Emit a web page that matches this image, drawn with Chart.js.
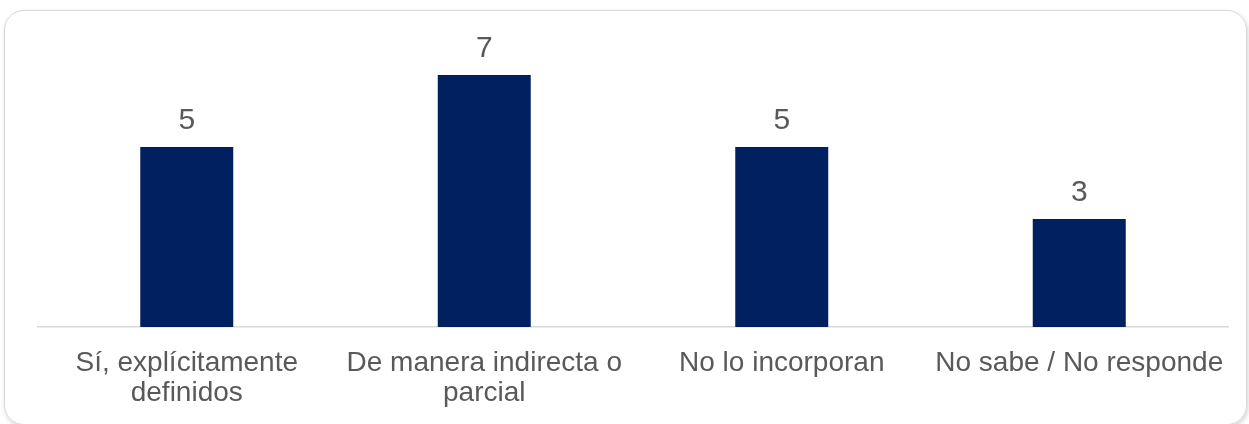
<!DOCTYPE html>
<html>
<head>
<meta charset="utf-8">
<script src="https://cdn.jsdelivr.net/npm/chart.js@4/dist/chart.umd.min.js"></script>
<style>
  html, body { margin: 0; padding: 0; background: #fff; }
  #wrap { position: relative; width: 1249px; height: 424px; overflow: hidden; }
  #frame {
    position: absolute; left: 4px; top: 10px; width: 1241px; height: 413px;
    border: 1.5px solid #d9d9d9; border-radius: 20px;
    box-shadow: 1px 2px 4px rgba(0,0,0,0.18);
  }
  #chart { position: absolute; left: 0; top: 0; }
</style>
</head>
<body>
<div id="wrap">
  <div id="frame"></div>
  <canvas id="chart" width="1249" height="424"></canvas>
</div>
<script>
// datos del gráfico
const categories = [
  ['Sí, explícitamente', 'definidos'],
  ['De manera indirecta o', 'parcial'],
  'No lo incorporan',
  'No sabe / No responde'
];
const values = [5, 7, 5, 3];

const barColor = '#002060';
const textColor = '#595959';

// etiquetas de valor encima de cada barra
const valueLabels = {
  id: 'valueLabels',
  afterDatasetsDraw(chart) {
    const ctx = chart.ctx;
    const meta = chart.getDatasetMeta(0);
    ctx.save();
    ctx.font = '30px "Liberation Sans", Arial, sans-serif';
    ctx.fillStyle = textColor;
    ctx.textAlign = 'center';
    ctx.textBaseline = 'alphabetic';
    meta.data.forEach((bar, i) => {
      ctx.fillText(String(values[i]), bar.x, bar.y - 18);
    });
    ctx.restore();
  }
};

new Chart(document.getElementById('chart').getContext('2d'), {
  type: 'bar',
  data: {
    labels: categories,
    datasets: [{
      data: values,
      backgroundColor: barColor,
      barPercentage: 1,
      categoryPercentage: 0.3126
    }]
  },
  options: {
    responsive: false,
    animation: false,
    layout: { padding: { left: 38, right: 21, top: 3, bottom: 0 } },
    plugins: {
      legend: { display: false },
      tooltip: { enabled: false }
    },
    scales: {
      x: {
        grid: { display: false, drawTicks: false },
        border: { display: true, color: '#d9d9d9', width: 1.5 },
        ticks: {
          color: textColor,
          padding: 21,
          maxRotation: 0,
          autoSkip: false,
          font: { family: '"Liberation Sans", Arial, sans-serif', size: 28, lineHeight: 1.08 }
        },
        afterFit: (scale) => { scale.height = 97; }
      },
      y: {
        display: false,
        min: 0,
        max: 9
      }
    }
  },
  plugins: [valueLabels]
});
</script>
</body>
</html>
